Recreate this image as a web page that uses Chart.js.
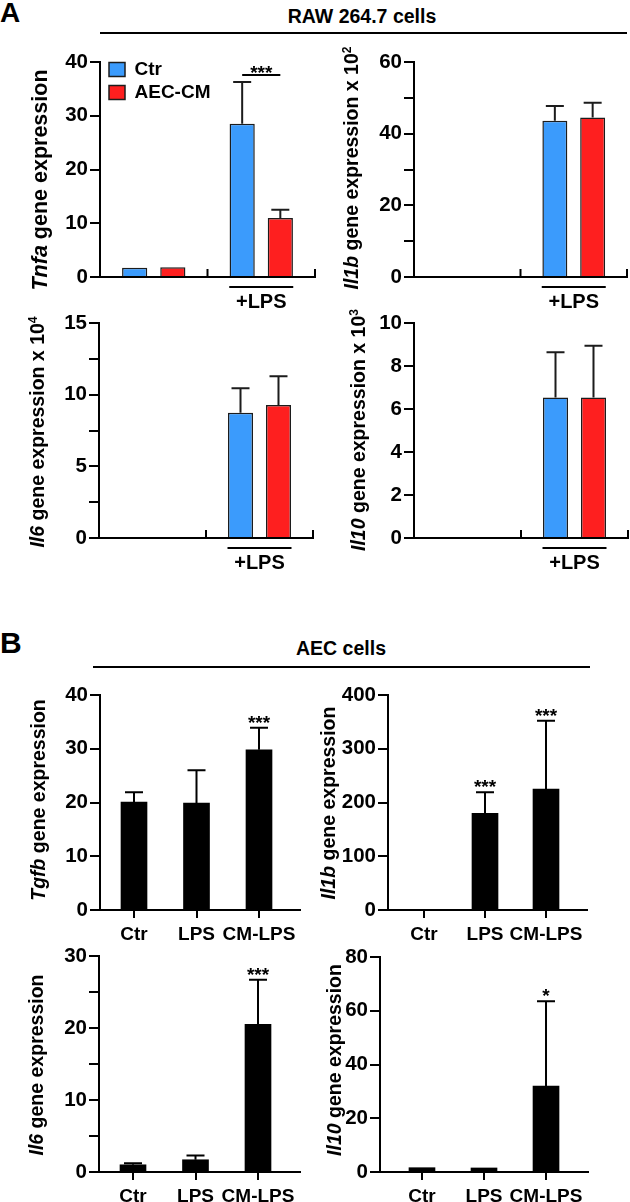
<!DOCTYPE html>
<html><head><meta charset="utf-8">
<script src="https://cdn.jsdelivr.net/npm/chart.js@4.4.1/dist/chart.umd.min.js"></script>
<style>
html,body{margin:0;padding:0;background:#fff;}
body{width:630px;height:1202px;position:relative;overflow:hidden;font-family:"Liberation Sans",Arial,sans-serif;color:#000;}
canvas{position:absolute;z-index:1;}
.t{position:absolute;white-space:nowrap;line-height:1;z-index:2;font-weight:bold;}
.hl{position:absolute;height:2px;background:#000;z-index:2;}
.yt{position:absolute;white-space:nowrap;line-height:1;font-size:19.5px;font-weight:bold;z-index:2;transform:translate(-50%,-50%) rotate(-90deg);}
.yt sup{font-size:0.62em;line-height:0;}
</style></head>
<body>
<div class="t" style="left:0px;top:-1px;font-size:28px;">A</div>
<div class="t" style="left:362px;top:7px;font-size:19.5px;transform:translateX(-50%);">RAW 264.7 cells</div>
<div class="hl" style="left:100px;top:32px;width:527px;"></div>
<div class="t" style="left:0px;top:628px;font-size:30px;">B</div>
<div class="t" style="left:341px;top:639px;font-size:19.5px;transform:translateX(-50%);">AEC cells</div>
<div class="hl" style="left:93px;top:666px;width:497px;"></div>

<div class="yt" style="left:41px;top:180px;font-size:21.5px;"><i>Tnfa</i> gene expression</div>
<div class="yt" style="left:352px;top:168px;"><i>Il1b</i> gene expression x 10<sup>2</sup></div>
<div class="yt" style="left:38px;top:432px;"><i>Il6</i> gene expression x 10<sup>4</sup></div>
<div class="yt" style="left:359px;top:430px;"><i>Il10</i> gene expression x 10<sup>3</sup></div>
<div class="yt" style="left:39px;top:800px;"><i>Tgfb</i> gene expression</div>
<div class="yt" style="left:329px;top:803px;"><i>Il1b</i> gene expression</div>
<div class="yt" style="left:37px;top:1065px;"><i>Il6</i> gene expression</div>
<div class="yt" style="left:335px;top:1060px;"><i>Il10</i> gene expression</div>

<script>
// ---------------- DATA ----------------
// Panel A (RAW 264.7 cells): two groups (unstimulated, +LPS), two series
const groupsA = ['', '+LPS'];
const seriesA = ['Ctr', 'AEC-CM'];
const tnfaCtr = [1.7, 28.5];   const tnfaCtrErr = [0, 7.8];
const tnfaCm  = [1.8, 11.0];   const tnfaCmErr  = [0, 1.5];
const tnfaSig = '***';
const il1bCtrA = [0, 43.6];    const il1bCtrAErr = [0, 4.1];
const il1bCmA  = [0, 44.5];    const il1bCmAErr  = [0, 4.1];
const il6CtrA  = [0, 8.74];    const il6CtrAErr  = [0, 1.71];
const il6CmA   = [0, 9.28];    const il6CmAErr   = [0, 2.0];
const il10CtrA = [0, 6.54];    const il10CtrAErr = [0, 2.1];
const il10CmA  = [0, 6.54];    const il10CmAErr  = [0, 2.4];

// Panel B (AEC cells): three groups, one series
const groupsB = ['Ctr', 'LPS', 'CM-LPS'];
const tgfbB  = [20.1, 19.9, 29.8]; const tgfbBErr = [1.8, 6.1, 4.1];   const tgfbBStars = ['', '', '***'];
const il1bB  = [0, 180, 225];      const il1bBErr = [0, 39, 127];      const il1bBStars = ['', '***', '***'];
const il6B   = [1.0, 1.7, 20.5];   const il6BErr  = [0.2, 0.6, 6.2];   const il6BStars  = ['', '', '***'];
const il10B  = [1.6, 1.5, 32];     const il10BErr = [0, 0, 31.5];      const il10BStars = ['', '', '*'];

// Y tick labels
const tnfaTicks = [0, 10, 20, 30, 40];
const il1bATicks = [0, 20, 40, 60];
const il6ATicks = [0, 5, 10, 15];
const il10ATicks = [0, 2, 4, 6, 8, 10];
const tgfbTicks = [0, 10, 20, 30, 40];
const il1bBTicks = [0, 100, 200, 300, 400];
const il6BTicks = [0, 10, 20, 30];
const il10BTicks = [0, 20, 40, 60, 80];

// ---------------- STYLE / LAYOUT ----------------
const FONT = "'Liberation Sans', Arial, sans-serif";
Chart.defaults.font.family = FONT;
Chart.defaults.color = '#000';
const BLUE = '#3b9bfc', RED = '#fe1f1f', EDGE = '#1c1c1c';
const PAD_T = 30, PAD_R = 24, YW = 62, XH = 46;
const TICK_FS = 20.5, XTICK_FS = 19;

function placeCanvas(area) {
  const c = document.createElement('canvas');
  c.width = area.r - area.l + YW + PAD_R;
  c.height = area.b - area.t + PAD_T + XH;
  c.style.left = (area.l - YW) + 'px';
  c.style.top = (area.t - PAD_T) + 'px';
  document.body.appendChild(c);
  return c;
}
function yScale(ticks, minorStep) {
  return {
    type: 'linear', min: 0, max: ticks[ticks.length - 1],
    ticks: { stepSize: minorStep, autoSkip: false, padding: 2, color: '#000', font: { size: TICK_FS, weight: 'bold' },
      callback: v => ticks.includes(v) ? String(v) : '' },
    grid: { drawOnChartArea: false, drawTicks: true, tickLength: 10, lineWidth: 2, color: '#000' },
    border: { display: true, width: 2, color: '#000' },
    afterFit: s => { s.width = YW; }
  };
}
function xGroupScale() {
  return { type: 'category', ticks: { display: false }, grid: { display: false },
    border: { display: true, width: 2, color: '#000' }, afterFit: s => { s.height = XH; } };
}
function xLinearScale(range) {
  return {
    type: 'linear', min: range[0], max: range[1], offset: false,
    afterBuildTicks: s => { s.ticks = groupsB.map((_, i) => ({ value: i })); },
    ticks: { autoSkip: false, maxRotation: 0, minRotation: 0, padding: 5, color: '#000',
      font: { size: XTICK_FS, weight: 'bold' }, callback: v => (groupsB[v] !== undefined ? groupsB[v] : '') },
    grid: { drawOnChartArea: false, drawTicks: true, tickLength: 8, lineWidth: 2, color: '#000', offset: false },
    border: { display: true, width: 2, color: '#000' },
    afterFit: s => { s.height = XH; }
  };
}

// ---------------- PLUGINS ----------------
const errorBars = {
  id: 'errorBars',
  afterDatasetsDraw(chart, args, o) {
    const ctx = chart.ctx, ys = chart.scales.y;
    chart.data.datasets.forEach((ds, di) => {
      if (!ds.errors) return;
      const meta = chart.getDatasetMeta(di);
      meta.data.forEach((bar, i) => {
        const d = ds.data[i];
        const v = (typeof d === 'object') ? d.y : d;
        const e = ds.errors[i] || 0;
        const x = bar.x, y0 = ys.getPixelForValue(v), y1 = ys.getPixelForValue(v + e);
        ctx.save();
        if (e > 0) {
          ctx.strokeStyle = o.color || '#000'; ctx.lineWidth = 2;
          ctx.beginPath();
          ctx.moveTo(x, y0); ctx.lineTo(x, y1);
          ctx.moveTo(x - 9, y1); ctx.lineTo(x + 9, y1);
          ctx.stroke();
        }
        const s = ds.stars && ds.stars[i];
        if (s) {
          ctx.fillStyle = '#000'; ctx.font = 'bold 19px ' + FONT;
          ctx.textAlign = 'center'; ctx.textBaseline = 'alphabetic';
          ctx.fillText(s, x, y1 - 10 + 0.585 * 19);
        }
        ctx.restore();
      });
    });
  }
};
const bracket = {
  id: 'bracket',
  afterDatasetsDraw(chart, args, o) {
    if (!o || o.group === undefined || o.group === null) return;
    const ctx = chart.ctx, ys = chart.scales.y;
    const xs = [], tops = [];
    chart.data.datasets.forEach((ds, di) => {
      const bar = chart.getDatasetMeta(di).data[o.group];
      xs.push(bar.x);
      tops.push(ys.getPixelForValue(ds.data[o.group] + (ds.errors ? ds.errors[o.group] : 0)));
    });
    const y = Math.min(...tops) - 7;
    const x0 = Math.min(...xs), x1 = Math.max(...xs);
    ctx.save();
    ctx.strokeStyle = '#000'; ctx.lineWidth = 2;
    ctx.beginPath(); ctx.moveTo(x0, y); ctx.lineTo(x1, y); ctx.stroke();
    ctx.fillStyle = '#000'; ctx.font = 'bold 19px ' + FONT;
    ctx.textAlign = 'center'; ctx.textBaseline = 'alphabetic';
    ctx.fillText(o.text, (x0 + x1) / 2, y - 7 + 0.585 * 19);
    ctx.restore();
  }
};
const groupTicks = {
  id: 'groupTicks',
  afterDraw(chart, args, o) {
    const xs = chart.scales.x, ca = chart.chartArea, ctx = chart.ctx;
    const labels = xs.getLabels();
    const n = labels.length;
    const half = (xs.getPixelForValue(1) - xs.getPixelForValue(0)) / 2;
    ctx.save();
    ctx.strokeStyle = '#000'; ctx.lineWidth = 2;
    for (let i = 0; i < n; i++) {
      const bx = xs.getPixelForValue(i) + half;
      ctx.beginPath(); ctx.moveTo(bx, ca.bottom); ctx.lineTo(bx, ca.bottom - 8); ctx.stroke();
    }
    labels.forEach((lab, i) => {
      if (!lab) return;
      const cx = xs.getPixelForValue(i);
      ctx.beginPath(); ctx.moveTo(cx - 32, ca.bottom + 10); ctx.lineTo(cx + 32, ca.bottom + 10); ctx.stroke();
      ctx.fillStyle = '#000'; ctx.font = 'bold 20px ' + FONT;
      ctx.textAlign = 'center'; ctx.textBaseline = 'alphabetic';
      ctx.fillText(lab, cx, ca.bottom + 31);
    });
    ctx.restore();
  }
};
const legendShift = {
  id: 'legendShift',
  afterLayout(chart, args, o) {
    const l = chart.legend;
    if (l && o && (o.dx || o.dy)) {
      l.left += o.dx; l.right += o.dx; l.top += o.dy; l.bottom += o.dy;
    }
  }
};

function baseOptions(xScale, yS, plugins) {
  return {
    responsive: false, animation: false, devicePixelRatio: 1,
    layout: { padding: { top: PAD_T, right: PAD_R, left: 0, bottom: 0 } },
    scales: { x: xScale, y: yS },
    plugins: Object.assign({ legend: { display: false }, tooltip: { enabled: false } }, plugins)
  };
}

function panelAChart(area, ctrVals, ctrErr, cmVals, cmErr, yticks, minor, extra, extraPlugins) {
  const c = placeCanvas(area);
  const common = { borderColor: EDGE, borderWidth: 1.5, categoryPercentage: 0.71, barPercentage: 0.66 };
  return new Chart(c, {
    type: 'bar',
    data: {
      labels: groupsA,
      datasets: [
        Object.assign({ label: seriesA[0], data: ctrVals, errors: ctrErr, backgroundColor: BLUE }, common),
        Object.assign({ label: seriesA[1], data: cmVals, errors: cmErr, backgroundColor: RED }, common)
      ]
    },
    options: baseOptions(xGroupScale(), yScale(yticks, minor), Object.assign({ errorBars: { color: EDGE } }, extra || {})),
    plugins: [errorBars, groupTicks].concat(extraPlugins || [])
  });
}

function panelBChart(area, range, vals, errs, stars, yticks, minor) {
  const c = placeCanvas(area);
  return new Chart(c, {
    type: 'bar',
    data: {
      datasets: [{ label: 'AEC', data: vals.map((v, i) => ({ x: i, y: v })), errors: errs, stars: stars,
        backgroundColor: '#000', borderWidth: 0, barThickness: 26 }]
    },
    options: baseOptions(xLinearScale(range), yScale(yticks, minor), { errorBars: { color: '#000' } }),
    plugins: [errorBars]
  });
}

// ---------------- CHARTS ----------------
panelAChart({ l: 100, t: 62, r: 315, b: 277 }, tnfaCtr, tnfaCtrErr, tnfaCm, tnfaCmErr, tnfaTicks, 10,
  {
    legend: { display: true, position: 'chartArea', align: 'start',
      labels: { boxWidth: 16, boxHeight: 14, padding: 4, color: '#000', font: { size: 19, weight: 'bold' } } },
    legendShift: { dx: 5, dy: 24 },
    bracket: { group: 1, text: tnfaSig }
  }, [bracket, legendShift]);
panelAChart({ l: 414, t: 62, r: 627, b: 277 }, il1bCtrA, il1bCtrAErr, il1bCmA, il1bCmAErr, il1bATicks, 10);
panelAChart({ l: 99, t: 323, r: 313, b: 538 }, il6CtrA, il6CtrAErr, il6CmA, il6CmAErr, il6ATicks, 2.5);
panelAChart({ l: 414, t: 323, r: 628, b: 538 }, il10CtrA, il10CtrAErr, il10CmA, il10CmAErr, il10ATicks, 2);

panelBChart({ l: 100, t: 695, r: 300, b: 910 }, [-0.544, 2.656], tgfbB, tgfbBErr, tgfbBStars, tgfbTicks, 10);
panelBChart({ l: 388, t: 695, r: 587, b: 910 }, [-0.59, 2.672], il1bB, il1bBErr, il1bBStars, il1bBTicks, 100);
panelBChart({ l: 99, t: 956, r: 300, b: 1172 }, [-0.544, 2.672], il6B, il6BErr, il6BStars, il6BTicks, 5);
panelBChart({ l: 380, t: 957, r: 588, b: 1172 }, [-0.677, 2.677], il10B, il10BErr, il10BStars, il10BTicks, 20);
</script>
</body></html>
